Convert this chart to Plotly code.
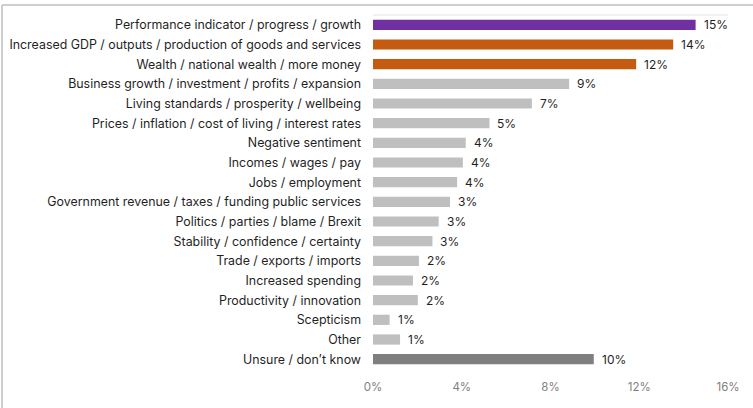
import plotly.graph_objects as go

# Share of responses per theme (%)
categories = [
    "Performance indicator / progress / growth",
    "Increased GDP / outputs / production of goods and services",
    "Wealth / national wealth / more money",
    "Business growth / investment / profits / expansion",
    "Living standards / prosperity / wellbeing",
    "Prices / inflation / cost of living / interest rates",
    "Negative sentiment",
    "Incomes / wages / pay",
    "Jobs / employment",
    "Government revenue / taxes / funding public services",
    "Politics / parties / blame / Brexit",
    "Stability / confidence / certainty",
    "Trade / exports / imports",
    "Increased spending",
    "Productivity / innovation",
    "Scepticism",
    "Other",
    "Unsure / don\u2019t know",
]
values = [14.54, 13.53, 11.86, 8.84, 7.16, 5.25, 4.18, 4.05, 3.79, 3.47,
          2.96, 2.68, 2.07, 1.80, 2.02, 0.75, 1.22, 9.95]
tick_values = [0, 4, 8, 12, 16]
tick_labels = ["0%", "4%", "8%", "12%", "16%"]

# Styling
PURPLE = "#7030A0"
ORANGE = "#C55A11"
LIGHT = "#BFBFBF"
DARK = "#7F7F7F"
bar_colors = [PURPLE, ORANGE, ORANGE] + [LIGHT] * 14 + [DARK]
FONT = "Inter"
TEXT = "#1F1F1F"

fig = go.Figure(
    go.Bar(
        x=values,
        y=categories,
        orientation="h",
        marker=dict(color=bar_colors, line=dict(width=0)),
        hoverinfo="skip",
    )
)

# Value labels just right of each bar end
for cat, v in zip(categories, values):
    fig.add_annotation(
        x=v, y=cat, text=f"{v:.0f}%", showarrow=False,
        xanchor="left", yanchor="middle", xshift=6,
        font=dict(family=FONT, size=12, color=TEXT),
    )

# Outer frame and the thin line along the top of the plot area
frame = dict(type="line", xref="paper", yref="paper",
             line=dict(color="#BFBFBF", width=1.5), layer="above")
fig.add_shape(x0=-1.045, x1=1.2, y0=1.028, y1=1.028, **frame)
fig.add_shape(x0=-1.045, x1=-1.045, y0=1.028, y1=-0.11, **frame)
fig.add_shape(type="line", xref="paper", yref="paper", x0=0, x1=1, y0=1, y1=1,
              line=dict(color="#E4E4E4", width=1), layer="below")

fig.update_layout(
    width=753, height=408,
    margin=dict(l=373, r=25, t=15, b=39, autoexpand=False),
    paper_bgcolor="white", plot_bgcolor="white",
    bargap=0.48,
    showlegend=False,
    font=dict(family=FONT, size=12, color=TEXT),
    xaxis=dict(
        range=[0, 16], tickvals=tick_values, ticktext=tick_labels,
        showgrid=False, zeroline=False, showline=False, ticks="",
        ticklabelstandoff=9, automargin=False,
        tickfont=dict(family=FONT, size=11.5, color="#808080"),
        fixedrange=True,
    ),
    yaxis=dict(
        autorange="reversed", showgrid=False, zeroline=False, showline=False,
        ticks="", ticklabelstandoff=11, automargin=False,
        tickfont=dict(family=FONT, size=12.4, color=TEXT),
        fixedrange=True,
    ),
)

fig.write_html("out.html")
